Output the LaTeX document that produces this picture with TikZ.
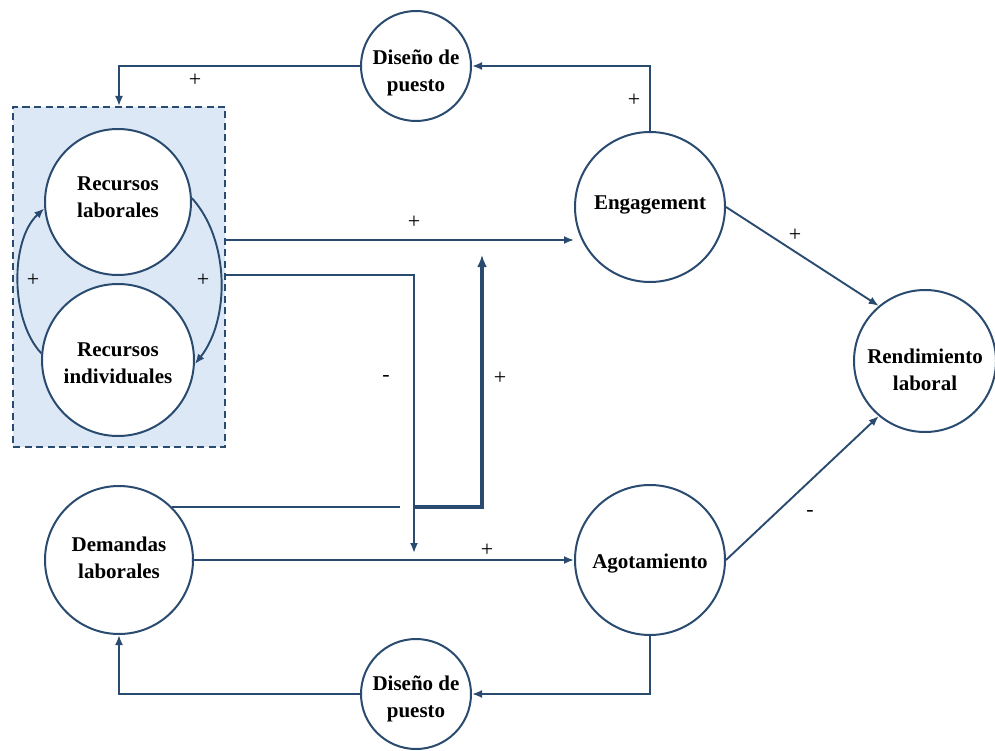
\documentclass[tikz,border=0pt]{standalone}
\usepackage{fontspec}
\setmainfont{Liberation Serif}
\usetikzlibrary{arrows.meta,calc}
\definecolor{lc}{HTML}{2A4B70}
\definecolor{gfill}{HTML}{DCE8F6}
\tikzset{
  circ/.style={circle,draw=lc,line width=2pt,fill=white,inner sep=0pt},
  ctext/.style={align=center,inner sep=0pt,font=\bfseries\fontsize{21}{27}\selectfont},
  grpbox/.style={draw=lc,dash pattern=on 7pt off 4.5pt,line width=2pt,fill=gfill,inner sep=0pt},
  conn/.style={draw=lc,line width=1.9pt},
  arr/.style={conn,-{Latex[length=10pt,width=8pt]}},
  bigarr/.style={draw=lc,line width=3.2pt,-{Latex[length=12pt,width=10pt]}},
  sign/.style={font=\fontsize{22}{24}\selectfont,inner sep=0pt}
}
\begin{document}
\begin{tikzpicture}[x=1pt,y=-1pt]
\useasboundingbox (0,0) rectangle (995,751);
% group box
\node[grpbox,minimum width=212pt,minimum height=340pt] (grp) at (119,277) {};
% nodes
\node[circ,minimum size=146pt,label={[ctext,yshift=5pt]center:{Recursos\\laborales}}] (rl) at (118,202) {};
\node[circ,minimum size=152pt,label={[ctext,yshift=-3pt]center:{Recursos\\individuales}}] (ri) at (118,360) {};
\node[circ,minimum size=110pt,label={[ctext,yshift=-7pt]center:{Diseño de\\puesto}}] (dt) at (416,66) {};
\node[circ,minimum size=150pt,label={[ctext,yshift=2pt]center:{Engagement}}] (eng) at (650,207) {};
\node[circ,minimum size=142pt,label={[ctext,yshift=-9pt]center:{Rendimiento\\laboral}}] (rend) at (925,361) {};
\node[circ,minimum size=150pt,label={[ctext,yshift=-4pt]center:{Agotamiento}}] (ago) at (650,560) {};
\node[circ,minimum size=148pt,label={[ctext,yshift=2pt]center:{Demandas\\laborales}}] (dem) at (119,560) {};
\node[circ,minimum size=110pt,label={[ctext,yshift=-5pt]center:{Diseño de\\puesto}}] (db) at (416,694) {};
% helper coordinates
\coordinate (y240) at (0,240);
\coordinate (y275) at (0,275);
\coordinate (m1) at (414,553);
\coordinate (gapL) at (400,507);
\coordinate (gapR) at (413,507);
\coordinate (mod) at (482,255);
% inner arcs
\draw[arr] (ri.175) .. controls (10,320) and (10,240) .. (rl.185);
\draw[arr] (rl.3) .. controls (230,240) and (230,320) .. (ri.357);
% connectors
\draw[arr] (dt.west) -| (grp.north);
\draw[arr] (eng.north) |- (dt.east);
\draw[arr] (grp.east |- y240) -- (eng.west |- y240);
\draw[arr] (grp.east |- y275) -| (m1);
\draw[conn] (dem.north east) -- (dem.north east -| gapL);
\draw[bigarr] (gapR) -| (mod);
\draw[arr] (dem.east) -- (ago.west);
\draw[arr] (ago.south) |- (db.east);
\draw[arr] (db.west) -| (dem.south);
\draw[arr] (eng.east) -- (rend.130);
\draw[arr] (ago.east) -- (rend.230);
% signs
\node[sign] (s1) at (195,80) {+};
\node[sign] (s2) at (634,100) {+};
\node[sign] (s3) at (414,222) {+};
\node[sign] (s4) at (33,280) {+};
\node[sign] (s5) at (203,280) {+};
\node[sign] (s6) at (386,378) {-};
\node[sign] (s7) at (500,378) {+};
\node[sign] (s8) at (487,550) {+};
\node[sign] (s9) at (795,235) {+};
\node[sign] (s10) at (810,513) {-};
\end{tikzpicture}
\end{document}
